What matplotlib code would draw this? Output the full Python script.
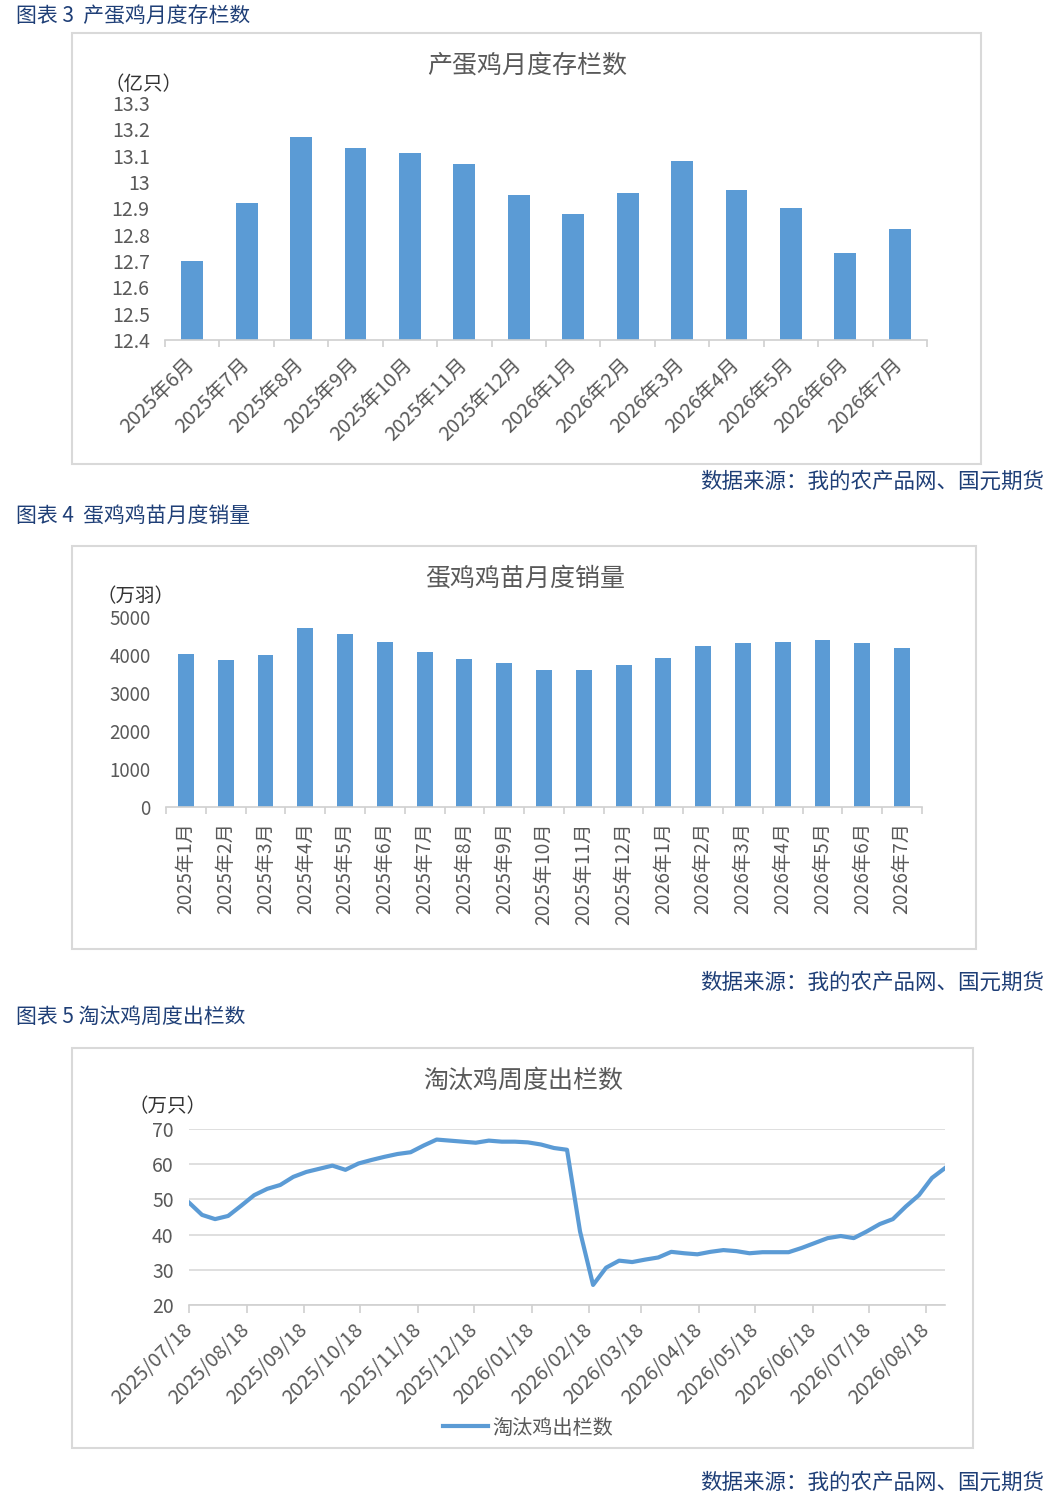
import matplotlib.pyplot as plt
from matplotlib.patches import Rectangle
import pandas as pd

plt.rcParams['font.family'] = ['Noto Sans CJK SC', 'DejaVu Sans']

# chart 1: laying hen stock (100 million)
stock_months = ['2025年6月', '2025年7月', '2025年8月', '2025年9月', '2025年10月',
                '2025年11月', '2025年12月', '2026年1月', '2026年2月', '2026年3月',
                '2026年4月', '2026年5月', '2026年6月', '2026年7月']
stock_values = [12.70, 12.92, 13.17, 13.13, 13.11, 13.07, 12.95, 12.88, 12.96,
                13.08, 12.97, 12.90, 12.73, 12.82]

# chart 2: chick sales (10k)
chick_months = ['2025年1月', '2025年2月', '2025年3月', '2025年4月', '2025年5月',
                '2025年6月', '2025年7月', '2025年8月', '2025年9月', '2025年10月',
                '2025年11月', '2025年12月', '2026年1月', '2026年2月', '2026年3月',
                '2026年4月', '2026年5月', '2026年6月', '2026年7月']
chick_values = [4030, 3870, 4000, 4720, 4560, 4350, 4080, 3900, 3790, 3610,
                3600, 3740, 3920, 4240, 4320, 4350, 4400, 4320, 4190]

# chart 3: culled hens weekly (10k)
cull_start = '2025-07-18'
cull_values = [49.1, 45.6, 44.4, 45.3, 48.2, 51.2, 53.0, 54.1, 56.4, 57.8,
               58.7, 59.6, 58.4, 60.2, 61.2, 62.1, 62.9, 63.4, 65.3, 67.0,
               66.7, 66.4, 66.1, 66.7, 66.4, 66.4, 66.2, 65.6, 64.6, 64.1,
               40.9, 25.7, 30.6, 32.6, 32.2, 32.9, 33.5, 35.1, 34.7, 34.4,
               35.1, 35.6, 35.3, 34.7, 35.0, 35.0, 35.0, 36.2, 37.6, 39.0,
               39.6, 39.0, 40.9, 43.0, 44.4, 48.0, 51.2, 56.1, 58.9]
cull_ticks = ['2025/07/18', '2025/08/18', '2025/09/18', '2025/10/18', '2025/11/18',
              '2025/12/18', '2026/01/18', '2026/02/18', '2026/03/18', '2026/04/18',
              '2026/05/18', '2026/06/18', '2026/07/18', '2026/08/18']

cull_dates = pd.date_range(cull_start, periods=len(cull_values), freq='7D')
tick_dates = pd.to_datetime(cull_ticks, format='%Y/%m/%d')

W, H = 1052, 1506
fig = plt.figure(figsize=(W / 100, H / 100), dpi=100)

bar_c = '#5B9BD5'
tick_c = '#595959'
axis_c = '#D0D0D0'
head_c = '#1F3F77'


def box(x0, y0, x1, y1):
    return [x0 / W, 1 - y1 / H, (x1 - x0) / W, (y1 - y0) / H]


def frame(x0, y0, x1, y1):
    fig.add_artist(Rectangle((x0 / W, 1 - y1 / H), (x1 - x0) / W, (y1 - y0) / H,
                             transform=fig.transFigure, fill=False,
                             ec='#D9D9D9', lw=1.5))


def text(x, y, s, **kw):
    fig.text(x / W, 1 - y / H, s, **kw)


def style(ax, size=14):
    for s in ['top', 'right', 'left']:
        ax.spines[s].set_visible(False)
    ax.spines['bottom'].set_color(axis_c)
    ax.spines['bottom'].set_linewidth(1.2)
    ax.tick_params(axis='y', length=0, labelsize=size, colors=tick_c, pad=11)
    ax.patch.set_alpha(0)


# headers and sources
text(16, 16, '图表 3  产蛋鸡月度存栏数', fontsize=15, color=head_c, va='center')
text(16, 516, '图表 4  蛋鸡鸡苗月度销量', fontsize=15, color=head_c, va='center')
text(16, 1017, '图表 5 淘汰鸡周度出栏数', fontsize=15, color=head_c, va='center')
for y in [482, 983, 1483]:
    text(1044, y, '数据来源：我的农产品网、国元期货', fontsize=15.5, color=head_c,
         va='center', ha='right')

# ---- chart 1 ----
frame(72, 33, 981, 464)
ax1 = fig.add_axes(box(165, 103, 927, 340))
ax1.bar(range(len(stock_values)), stock_values, width=0.4, color=bar_c, zorder=2)
ax1.set_xlim(-0.5, len(stock_values) - 0.5)
ax1.set_ylim(12.4, 13.3)
ax1.set_yticks([12.4, 12.5, 12.6, 12.7, 12.8, 12.9, 13.0, 13.1, 13.2, 13.3])
ax1.set_yticklabels(['12.4', '12.5', '12.6', '12.7', '12.8', '12.9', '13',
                     '13.1', '13.2', '13.3'])
style(ax1, 14)
ax1.set_xticks(range(len(stock_months)))
ax1.set_xticklabels(stock_months, rotation=45, ha='right', va='center',
                    rotation_mode='anchor', fontsize=14.5, color=tick_c)
ax1.tick_params(axis='x', length=0, pad=16)
ax1.set_xticks([i - 0.5 for i in range(len(stock_months) + 1)], minor=True)
ax1.tick_params(axis='x', which='minor', length=5, color=axis_c, width=1.2)
text(527, 66, '产蛋鸡月度存栏数', fontsize=18, color=tick_c, ha='center', va='center')
text(143, 84, '（亿只）', fontsize=14, color='#333333', ha='center', va='center')

# ---- chart 2 ----
frame(72, 546, 976, 949)
ax2 = fig.add_axes(box(166, 617, 922, 807))
ax2.bar(range(len(chick_values)), chick_values, width=0.4, color=bar_c, zorder=2)
ax2.set_xlim(-0.5, len(chick_values) - 0.5)
ax2.set_ylim(0, 5000)
ax2.set_yticks(range(0, 5001, 1000))
style(ax2, 13.5)
ax2.set_xticks(range(len(chick_months)))
ax2.set_xticklabels(chick_months, rotation=90, ha='center', va='top',
                    fontsize=13.8, color=tick_c)
ax2.tick_params(axis='x', length=0, pad=11)
ax2.set_xticks([i - 0.5 for i in range(len(chick_months) + 1)], minor=True)
ax2.tick_params(axis='x', which='minor', length=5, color=axis_c, width=1.2)
text(525, 579, '蛋鸡鸡苗月度销量', fontsize=18, color=tick_c, ha='center', va='center')
text(136, 597, '（万羽）', fontsize=14, color='#333333', ha='center', va='center')

# ---- chart 3 ----
frame(72, 1048, 973, 1448)
ax3 = fig.add_axes(box(189, 1129, 945, 1305))
ax3.plot(cull_dates, cull_values, color=bar_c, lw=3, label='淘汰鸡出栏数',
         solid_joinstyle='round', zorder=3)
ax3.set_xlim(cull_dates[0], cull_dates[-1])
ax3.set_ylim(20, 70)
ax3.set_yticks(range(20, 71, 10))
ax3.grid(axis='y', color='#D9D9D9', lw=1.2)
ax3.set_axisbelow(True)
style(ax3, 14)
ax3.set_xticks(tick_dates)
ax3.set_xticklabels(cull_ticks, rotation=45, ha='right', va='center',
                    rotation_mode='anchor', fontsize=14.5, color=tick_c)
ax3.tick_params(axis='x', length=6, color=axis_c, width=1.2, pad=10)
ax3.legend(loc='center', bbox_to_anchor=(528 / W, 1 - 1428 / H),
           bbox_transform=fig.transFigure, frameon=False, fontsize=14.5,
           handlelength=2.2, handletextpad=0.2, labelcolor=tick_c)
text(523, 1081, '淘汰鸡周度出栏数', fontsize=18, color=tick_c, ha='center', va='center')
text(168, 1107, '（万只）', fontsize=14, color='#333333', ha='center', va='center')

fig.savefig('out.png', dpi=100)
